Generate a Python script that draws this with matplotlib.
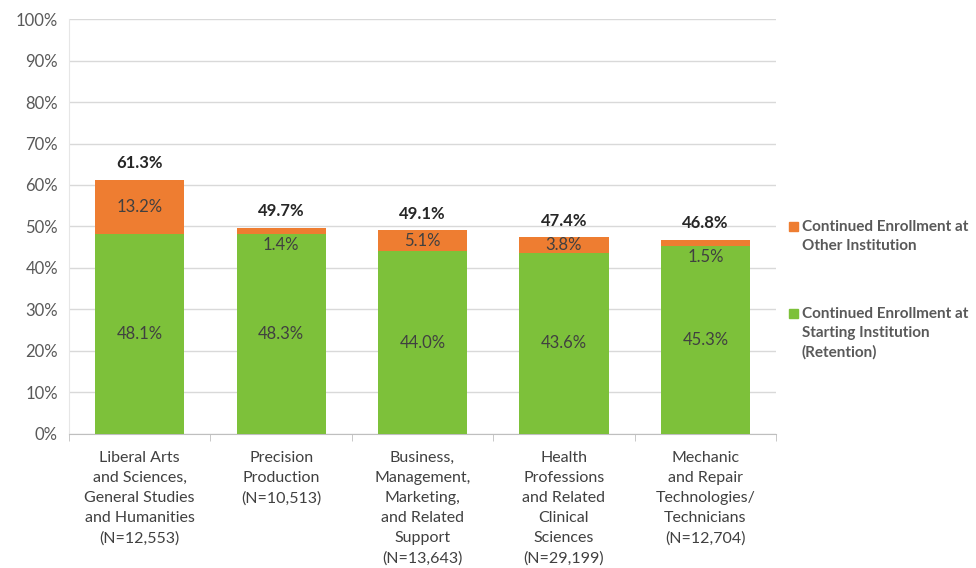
import matplotlib
matplotlib.use("Agg")
import matplotlib.pyplot as plt
from matplotlib.patches import Rectangle
import numpy as np

plt.rcParams['font.family'] = ['Lato', 'DejaVu Sans']

# 値は元グラフから読み取り
categories = [
    "Liberal Arts\nand Sciences,\nGeneral Studies\nand Humanities\n(N=12,553)",
    "Precision\nProduction\n(N=10,513)",
    "Business,\nManagement,\nMarketing,\nand Related\nSupport\n(N=13,643)",
    "Health\nProfessions\nand Related\nClinical\nSciences\n(N=29,199)",
    "Mechanic\nand Repair\nTechnologies/\nTechnicians\n(N=12,704)",
]
retention = [48.1, 48.3, 44.0, 43.6, 45.3]
other = [13.2, 1.4, 5.1, 3.8, 1.5]
totals = [61.3, 49.7, 49.1, 47.4, 46.8]
legend_labels = ["Continued Enrollment at\nOther Institution",
                 "Continued Enrollment at\nStarting Institution\n(Retention)"]

GREEN = "#7DC13A"
ORANGE = "#EE7D31"
GRAY = "#595959"

fig = plt.figure(figsize=(9.76, 5.68), dpi=100)
ax = fig.add_axes([0.0707, 0.236, 0.7245, 0.7305])

x = np.arange(len(categories))
w = 0.63
ax.bar(x, retention, w, color=GREEN, zorder=3)
ax.bar(x, other, w, bottom=retention, color=ORANGE, zorder=3)

for i in range(len(x)):
    ax.text(x[i], retention[i] / 2, f"{retention[i]:.1f}%", ha="center", va="center",
            fontsize=12, color="#404040", zorder=4)
    # 小さい区間はラベルを緑の中に置く
    if other[i] >= 3:
        yo = retention[i] + other[i] / 2
    else:
        yo = retention[i] + other[i] - 4.2
    ax.text(x[i], yo, f"{other[i]:.1f}%", ha="center", va="center",
            fontsize=12, color="#404040", zorder=4)
    ax.annotate(f"{totals[i]:.1f}%", (x[i], totals[i]), xytext=(0, 6), textcoords="offset points",
                ha="center", va="bottom", fontsize=12, fontweight="bold", color="#262626")

ax.set_ylim(0, 100)
ax.set_xlim(-0.5, len(x) - 0.5)
ax.set_yticks(np.arange(0, 101, 10))
ax.set_yticklabels([f"{v}%" for v in range(0, 101, 10)])
ax.set_xticks(x)
ax.set_xticklabels(categories, linespacing=1.55)
ax.set_xticks(np.arange(-0.5, len(x), 1), minor=True)
ax.tick_params(axis="y", length=0, labelsize=12, labelcolor=GRAY, pad=8)
ax.tick_params(axis="x", which="major", length=0, labelsize=11.5, labelcolor="#404040", pad=12)
ax.tick_params(axis="x", which="minor", length=5, color="#BFBFBF")
ax.grid(axis="y", color="#D9D9D9", linewidth=1, zorder=0)
for s in ["top", "right"]:
    ax.spines[s].set_visible(False)
ax.spines["left"].set_color("#E6E6E6")
ax.spines["bottom"].set_color("#BFBFBF")

# 凡例（手描き）
for col, lab, ytop in [(ORANGE, legend_labels[0], 0.609), (GREEN, legend_labels[1], 0.456)]:
    fig.patches.append(Rectangle((0.8085, ytop - 0.0165), 0.0095, 0.0165, color=col,
                                 transform=fig.transFigure))
    fig.text(0.8215, ytop + 0.004, lab, ha="left", va="top", fontsize=11, fontweight="bold",
             color=GRAY, linespacing=1.45)

fig.savefig("out.png", dpi=100)
